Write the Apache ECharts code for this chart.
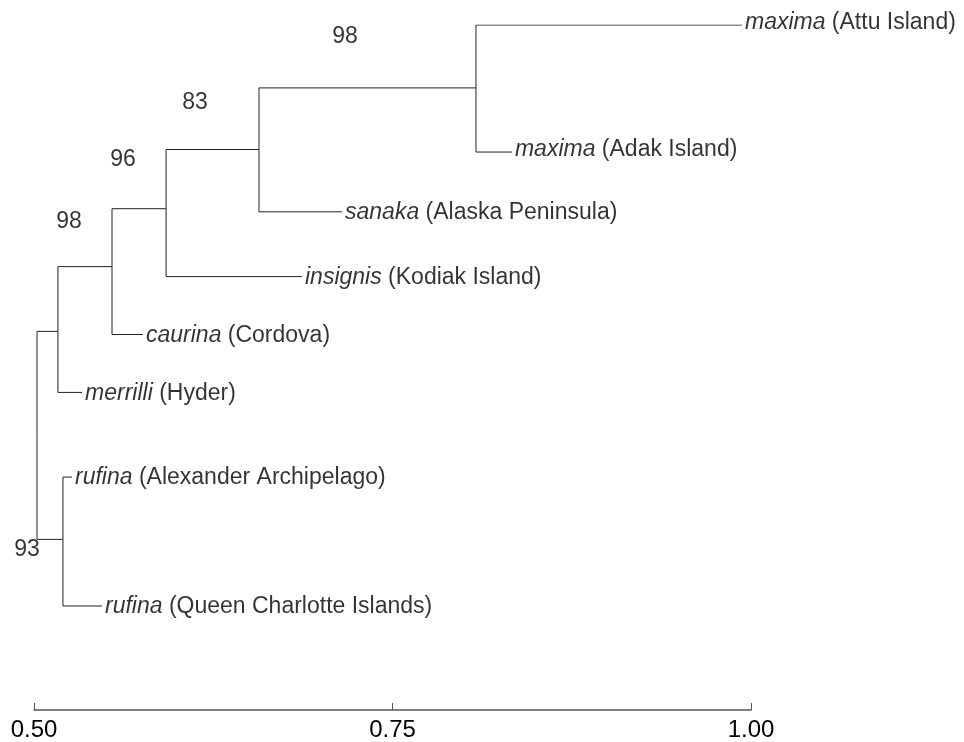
<!DOCTYPE html>
<html>
<head>
<meta charset="utf-8">
<script src="https://cdn.jsdelivr.net/npm/echarts@6/dist/echarts.min.js"></script>
<style>html,body{margin:0;padding:0;background:#fff;}#c{width:964px;height:742px;}</style>
</head>
<body>
<div id="c"></div>
<script>
// ---- data ----
const leafEpithet = ['maxima','maxima','sanaka','insignis','caurina','merrilli','rufina','rufina'];
const leafLocality = ['Attu Island','Adak Island','Alaska Peninsula','Kodiak Island','Cordova','Hyder','Alexander Archipelago','Queen Charlotte Islands'];
const leafDistance = [0.9937,0.8333,0.7148,0.6869,0.5760,0.5335,0.5265,0.5474];
const leafRow = [0,2.04,3.0,4.04,4.97,5.90,7.26,9.33];
const leafParent = ['nA','nA','nB','nC','nD','nE','nF','nF'];

const nodeIds = ['nA','nB','nC','nD','nE','nF','root'];
const nodeDistance = [0.8082,0.6569,0.5921,0.5544,0.5167,0.5202,0.5021];
const nodeRow = [1.01,2.0,2.95,3.88,4.92,8.26,6.59];
const nodeParent = ['nB','nC','nD','nE','root','root',null];

const bootstrapValue = ['98','83','96','98','93'];
const bootstrapDistance = [0.7169,0.6123,0.5621,0.5244,0.4951];
const bootstrapRow = [0.18,1.25,2.17,3.16,8.42];

const axisTicks = [0.50,0.75,1.00];

// ---- build ----
const nodeMap = {};
nodeIds.forEach((id,i)=>{ nodeMap[id] = {x:nodeDistance[i], y:nodeRow[i]}; });
const edges = [];
function addEdge(parentId, cx, cy){
  if(!parentId) return;
  const p = nodeMap[parentId];
  edges.push({coords:[[p.x,p.y],[p.x,cy],[cx,cy]]});
}
leafDistance.forEach((d,i)=>addEdge(leafParent[i], d, leafRow[i]));
nodeIds.forEach((id,i)=>addEdge(nodeParent[i], nodeDistance[i], nodeRow[i]));

const FONT = '"Liberation Sans", Arial, sans-serif';
const raisedLabel = {maxima:true};
const chart = echarts.init(document.getElementById('c'), null, {renderer:'canvas'});
chart.setOption({
  animation:false,
  backgroundColor:'#fff',
  grid:{left:34, right:213, top:25, bottom:31, containLabel:false},
  xAxis:{
    type:'value', min:0.5, max:1.0, interval:0.25, position:'bottom',
    axisLine:{show:true, onZero:false, lineStyle:{color:'#555', width:1.5}},
    axisTick:{show:true, inside:true, length:7, lineStyle:{color:'#555', width:1}},
    axisLabel:{color:'#000', fontSize:24, fontFamily:'"Liberation Sans Narrow", "Liberation Sans", Arial, sans-serif', margin:8,
      formatter:v=>{ const t = axisTicks.find(a=>Math.abs(a-v)<1e-9); return t===undefined?'':t.toFixed(2); }},
    splitLine:{show:false}
  },
  yAxis:{
    type:'value', min:0, max:11, inverse:true, show:false,
    axisLine:{show:false}, splitLine:{show:false}, axisTick:{show:false}, axisLabel:{show:false}
  },
  series:[
    {
      type:'lines', coordinateSystem:'cartesian2d', polyline:true, silent:true,
      lineStyle:{color:'#222', width:1, opacity:1},
      data:edges
    },
    {
      type:'scatter', symbolSize:0, silent:true, clip:false,
      data:leafDistance.map((d,i)=>({value:[d,leafRow[i]],
        label:{offset:[0, raisedLabel[leafEpithet[i]] ? -2 : 1]}})),
      label:{show:true, position:'right', distance:3, color:'#000', fontSize:23, fontFamily:FONT,
        formatter:p=>{ const i=p.dataIndex; return '{i|'+leafEpithet[i]+'} ('+leafLocality[i]+')'; },
        rich:{i:{fontStyle:'italic', fontSize:23, fontFamily:FONT, color:'#000'}}
      }
    },
    {
      type:'scatter', symbolSize:0, silent:true, clip:false,
      data:bootstrapDistance.map((d,i)=>({value:[d,bootstrapRow[i]]})),
      label:{show:true, position:'inside', color:'#000', fontSize:23, fontFamily:FONT,
        formatter:p=>bootstrapValue[p.dataIndex]}
    }
  ]
});
</script>
</body>
</html>
